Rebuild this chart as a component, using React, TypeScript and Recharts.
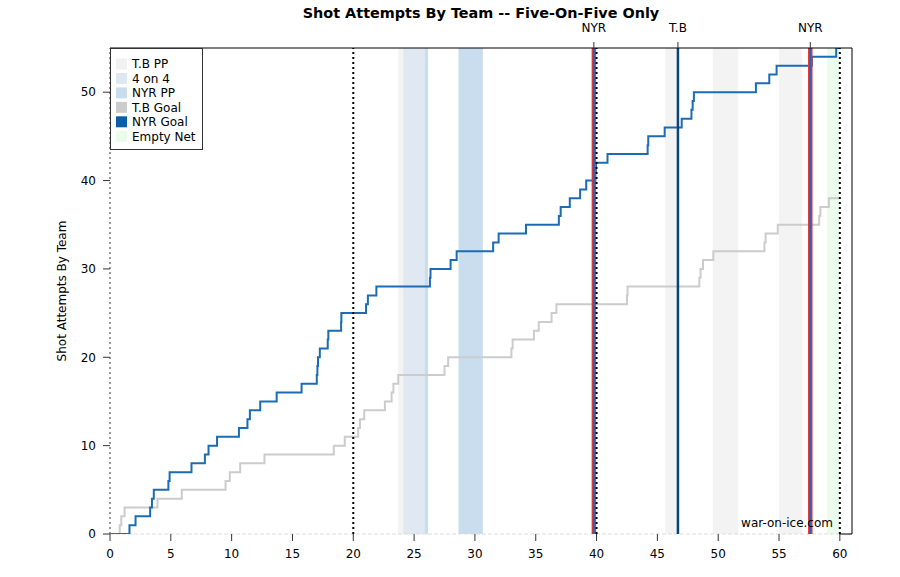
import {
  ComposedChart,
  Line,
  ReferenceArea,
  ReferenceLine,
  XAxis,
  YAxis,
} from "recharts";

// cumulative shot attempts (5v5)
const nyrTimes = [
  0, 1.6, 2.1, 3.3, 3.45, 3.6, 4.8, 4.9, 6.7, 7.8, 8.1, 8.8, 10.6, 11.3, 11.5,
  12.35, 13.7, 15.75, 17.0, 17.05, 17.1, 17.25, 17.9, 17.95, 19.0, 19.02, 21.05,
  21.2, 21.9, 26.3, 26.35, 28.0, 28.5, 31.5, 31.95, 34.2, 36.9, 37.05, 37.8,
  38.65, 39.15, 39.9, 39.95, 40.9, 44.2, 44.25, 45.6, 47.0, 47.8, 47.9, 48.0,
  53.1, 54.2, 54.8, 57.7, 59.7, 60,
];
const nyrCounts = [
  0, 1, 2, 3, 4, 5, 6, 7, 8, 9, 10, 11, 12, 13, 14, 15, 16, 17, 18, 19, 20, 21,
  22, 23, 24, 25, 26, 27, 28, 29, 30, 31, 32, 33, 34, 35, 36, 37, 38, 39, 40,
  41, 42, 43, 44, 45, 46, 47, 48, 49, 50, 51, 52, 53, 54, 55, 55,
];
const tbTimes = [
  0, 0.8, 0.93, 1.2, 3.9, 5.9, 9.5, 9.85, 10.7, 12.7, 18.4, 19.3, 20.4, 20.55,
  20.9, 22.6, 23.15, 23.3, 23.7, 27.5, 27.8, 33.0, 33.1, 34.85, 35.25, 36.3,
  36.7, 42.5, 42.55, 48.45, 48.55, 48.75, 49.6, 53.8, 53.9, 54.9, 58.3, 58.4,
  59.1, 60,
];
const tbCounts = [
  0, 1, 2, 3, 4, 5, 6, 7, 8, 9, 10, 11, 12, 13, 14, 15, 16, 17, 18, 19, 20, 21,
  22, 23, 24, 25, 26, 27, 28, 29, 30, 31, 32, 33, 34, 35, 36, 37, 38, 38,
];

const xTicks = [0, 5, 10, 15, 20, 25, 30, 35, 40, 45, 50, 55, 60];
const yTicks = [0, 10, 20, 30, 40, 50];
const periodEnds = [20, 40, 60];

const goalTimes = [39.78, 46.69, 57.57];
const goalTeams = ["NYR", "T.B", "NYR"];

// situation bands
const bandStart = [23.7, 24.1, 25.85, 28.65, 45.65, 49.55, 55.0, 58.95];
const bandEnd = [24.1, 25.85, 26.15, 30.65, 46.62, 51.65, 56.9, 59.97];
const bandKind = ["tbpp", "4on4", "nyrpp", "nyrpp", "tbpp", "tbpp", "tbpp", "en"];

const legendLabels = ["T.B PP", "4 on 4", "NYR PP", "T.B Goal", "NYR Goal", "Empty Net"];
const legendColors = ["#f2f2f2", "#dfe8f2", "#c9ddee", "#cccccc", "#0b5fa8", "#eafcea"];

const bandColors: { [k: string]: string } = {
  tbpp: "#f3f3f3",
  "4on4": "#e0e8f2",
  nyrpp: "#c9ddee",
  en: "#ecfcec",
};

const nyrData = nyrTimes.map((t, i) => ({ t, n: nyrCounts[i] }));
const tbData = tbTimes.map((t, i) => ({ t, n: tbCounts[i] }));

const FONT = "'DejaVu Sans', Verdana, sans-serif";

export default function App() {
  return (
    <div
      style={{
        position: "absolute",
        left: 0,
        top: 0,
        width: 900,
        height: 577,
        background: "#fff",
        fontFamily: FONT,
      }}
    >
      <ComposedChart
        width={900}
        height={577}
        margin={{ top: 18, right: 48, bottom: 13, left: 50 }}
        style={{ fontFamily: FONT }}
      >
        <XAxis
          xAxisId={0}
          type="number"
          dataKey="t"
          domain={[0, 61]}
          ticks={xTicks}
          allowDataOverflow
          height={30}
          axisLine={false}
          tickSize={7}
          tickMargin={8}
          tickLine={{ stroke: "#333" }}
          tick={{ fill: "#000", fontSize: 12 }}
        />
        <XAxis
          xAxisId="top"
          orientation="top"
          type="number"
          dataKey="t"
          domain={[0, 61]}
          ticks={goalTimes}
          allowDataOverflow
          height={30}
          axisLine={{ stroke: "#000" }}
          tickSize={6}
          tickMargin={10}
          tickLine={{ stroke: "#333" }}
          tick={{ fill: "#000", fontSize: 12 }}
          tickFormatter={(v: number) => goalTeams[goalTimes.indexOf(v)] ?? ""}
        />
        <YAxis
          type="number"
          domain={[0, 55]}
          ticks={yTicks}
          allowDataOverflow
          width={60}
          axisLine={false}
          tickSize={7}
          tickMargin={7}
          tickLine={{ stroke: "#333" }}
          tick={{ fill: "#000", fontSize: 12 }}
        />

        {bandStart.map((s, i) => (
          <ReferenceArea
            key={"band" + i}
            x1={s}
            x2={bandEnd[i]}
            y1={0}
            y2={55}
            fill={bandColors[bandKind[i]]}
            fillOpacity={1}
            stroke="none"
            zIndex={50}
          />
        ))}

        <ReferenceLine y={0} stroke="#dddddd" strokeDasharray="4 2" zIndex={60} />

        <Line
          data={tbData}
          dataKey="n"
          type="stepAfter"
          stroke="#cccccc"
          strokeWidth={2}
          dot={false}
          activeDot={false}
          isAnimationActive={false}
        />
        <Line
          data={nyrData}
          dataKey="n"
          type="stepAfter"
          stroke="#1b6cb4"
          strokeWidth={2}
          dot={false}
          activeDot={false}
          isAnimationActive={false}
        />

        {goalTimes.map((g, i) =>
          goalTeams[i] === "NYR" ? (
            <ReferenceLine
              key={"gr" + i}
              x={g}
              stroke="#e8333a"
              strokeWidth={4.5}
              zIndex={450}
            />
          ) : null
        )}
        {goalTimes.map((g, i) => (
          <ReferenceLine
            key={"gb" + i}
            x={g}
            stroke={goalTeams[i] === "NYR" ? "#1b6cb4" : "#08437f"}
            strokeWidth={goalTeams[i] === "NYR" ? 2 : 2.5}
            zIndex={451}
          />
        ))}

        <ReferenceLine
          x={0}
          stroke="#777"
          strokeDasharray="2 3"
          strokeWidth={1.5}
          zIndex={460}
        />
        {periodEnds.map((p) => (
          <ReferenceLine
            key={"p" + p}
            x={p}
            stroke="#000"
            strokeDasharray="2 3"
            strokeWidth={2}
            zIndex={460}
          />
        ))}

        <ReferenceLine x={61} stroke="#000" strokeWidth={1} zIndex={470} />
        <ReferenceLine
          segment={[
            { x: 60, y: 0 },
            { x: 61, y: 0 },
          ]}
          stroke="#000"
          strokeWidth={1}
          zIndex={470}
        />
      </ComposedChart>

      <svg
        width={900}
        height={577}
        style={{ position: "absolute", left: 0, top: 0, pointerEvents: "none" }}
      >
        <text
          x={481}
          y={18}
          textAnchor="middle"
          fontFamily={FONT}
          fontWeight="bold"
          fontSize={14.4}
          fill="#000"
        >
          Shot Attempts By Team -- Five-On-Five Only
        </text>
        <text
          x={0}
          y={0}
          transform="translate(66 291) rotate(-90)"
          textAnchor="middle"
          fontFamily={FONT}
          fontSize={12}
          fill="#000"
        >
          Shot Attempts By Team
        </text>
        <text
          x={833}
          y={527}
          textAnchor="end"
          fontFamily={FONT}
          fontSize={12}
          fill="#000"
        >
          war-on-ice.com
        </text>

        <rect x={110.5} y={48.5} width={92} height={101} fill="#fff" stroke="#333" strokeWidth={1} />
        {legendLabels.map((lab, i) => (
          <g key={lab}>
            <rect x={116} y={58.5 + i * 14.45} width={11} height={11} fill={legendColors[i]} />
            <text
              x={132}
              y={68.3 + i * 14.45}
              fontFamily={FONT}
              fontSize={12}
              fill="#000"
            >
              {lab}
            </text>
          </g>
        ))}
      </svg>
    </div>
  );
}
